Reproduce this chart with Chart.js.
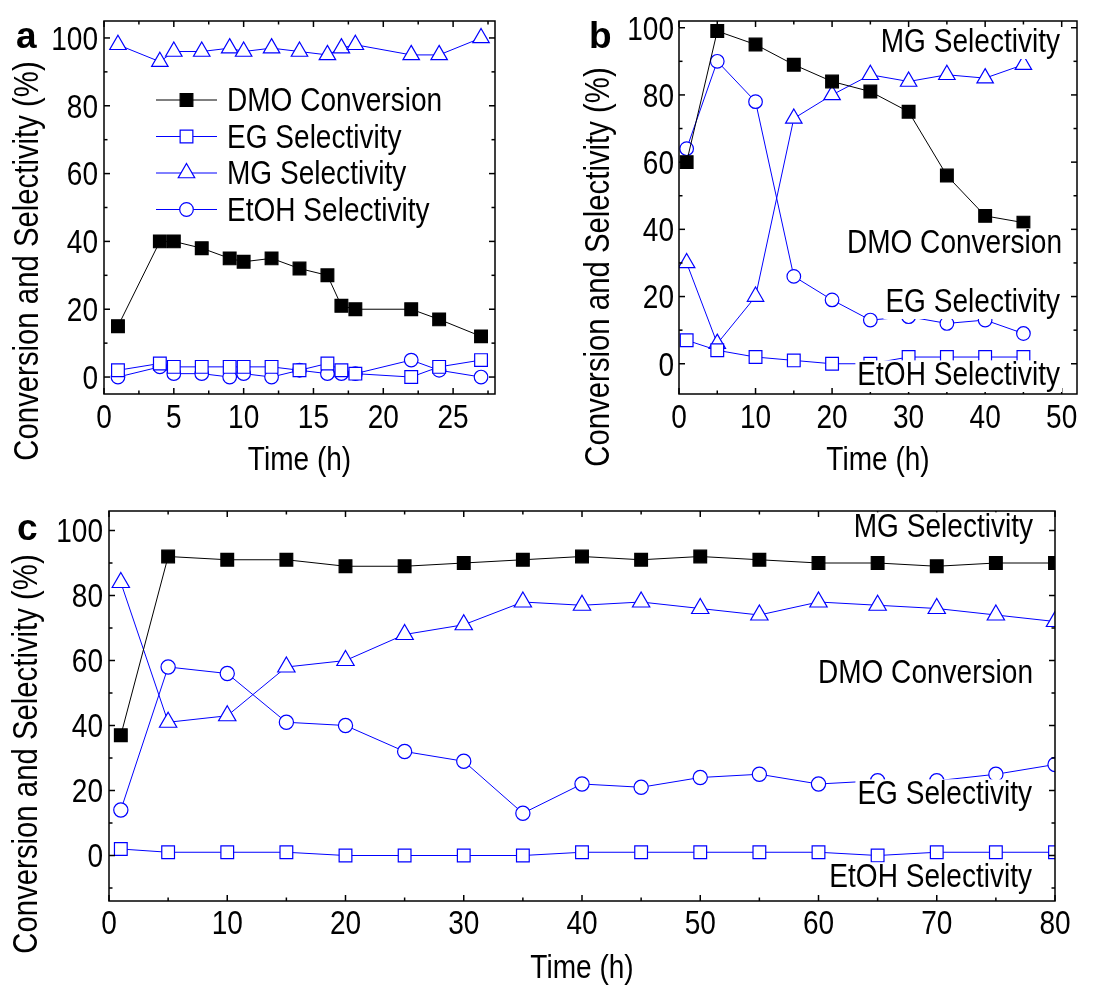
<!DOCTYPE html>
<html>
<head>
<meta charset="utf-8">
<script src="https://cdn.jsdelivr.net/npm/chart.js@4/dist/chart.umd.min.js"></script>
<style>
  html, body { margin: 0; padding: 0; background: #fff; }
  body { width: 1110px; height: 989px; position: relative; overflow: hidden; }
  canvas { position: absolute; }
</style>
</head>
<body>
<canvas id="panelA" style="left:0;top:0;width:550px;height:490px" width="550" height="490"></canvas>
<canvas id="panelB" style="left:560px;top:0;width:550px;height:490px" width="550" height="490"></canvas>
<canvas id="panelC" style="left:0;top:490px;width:1110px;height:499px" width="1110" height="499"></canvas>
<script>
// ---- Panel a ----
const timeA = [1, 4, 5, 7, 9, 10, 12, 14, 16, 17, 18, 22, 24, 27];
const dmoA  = [15, 40, 40, 38, 35, 34, 35, 32, 30, 21, 20, 20, 17, 12];
const egA   = [2, 4, 3, 3, 3, 3, 3, 2, 4, 2, 1, 0, 3, 5];
const mgA   = [98, 93, 96, 96, 97, 96, 97, 96, 95, 97, 98, 95, 95, 100];
const etohA = [0, 3, 1, 1, 0, 1, 0, 2, 1, 1, 1, 5, 2, 0];

// ---- Panel b ----
const timeB  = [1, 5, 10, 15, 20, 25, 30, 35, 40, 45];
const dmoB   = [60, 99, 95, 89, 84, 81, 75, 56, 44, 42];
const squareB = [7, 4, 2, 1, 0, 0, 2, 2, 2, 2];
const triB   = [30, 6, 20, 73, 80, 86, 84, 86, 85, 89];
const circleB = [64, 90, 78, 26, 19, 13, 14, 12, 13, 9];

// ---- Panel c ----
const timeC  = [1, 5, 10, 15, 20, 25, 30, 35, 40, 45, 50, 55, 60, 65, 70, 75, 80];
const dmoC   = [37, 92, 91, 91, 89, 89, 90, 91, 92, 91, 92, 91, 90, 90, 89, 90, 90];
const squareC = [2, 1, 1, 1, 0, 0, 0, 0, 1, 1, 1, 1, 1, 0, 1, 1, 1];
const triC   = [84, 41, 43, 58, 60, 68, 71, 78, 77, 78, 76, 74, 78, 77, 76, 74, 72];
const circleC = [14, 58, 56, 41, 40, 32, 29, 13, 22, 21, 24, 25, 22, 23, 23, 25, 28];

// tick labels
const yTickVals  = [0, 20, 40, 60, 80, 100];
const xTickValsA = [0, 5, 10, 15, 20, 25];
const xTickValsB = [0, 10, 20, 30, 40, 50];
const xTickValsC = [0, 10, 20, 30, 40, 50, 60, 70, 80];

const seriesNames = ['DMO Conversion', 'EG Selectivity', 'MG Selectivity', 'EtOH Selectivity'];
const yTitle = 'Conversion and Selectivity (%)';
const xTitle = 'Time (h)';

const FONT = "'Liberation Sans', Arial, Helvetica, sans-serif";
const SIZE = 33;          // tick labels, legend, notes, x title
const TITLE_SIZE = 34.5;  // y title
const SQUEEZE = 0.85;     // horizontal condensing of all plain text
const CAP = SIZE * 0.716;
const BLUE = '#0000ff';

const pts = (xs, ys) => xs.map((x, i) => ({ x, y: ys[i] }));

// marker styles for the four kinds of series
const STYLE = {
  dmo:    { pointStyle: 'rect',     pointRadius: 9,   borderColor: '#000', pointBackgroundColor: '#000', pointBorderColor: '#000' },
  square: { pointStyle: 'rect',     pointRadius: 9,   borderColor: BLUE,  pointBackgroundColor: '#fff', pointBorderColor: BLUE },
  tri:    { pointStyle: 'triangle', pointRadius: 9.5, borderColor: BLUE,  pointBackgroundColor: '#fff', pointBorderColor: BLUE },
  circle: { pointStyle: 'circle',   pointRadius: 6.8, borderColor: BLUE,  pointBackgroundColor: '#fff', pointBorderColor: BLUE }
};

function dataset(label, xs, ys, kind, bigger) {
  const s = STYLE[kind];
  const r = s.pointRadius + (bigger || 0);
  return {
    label,
    data: pts(xs, ys),
    borderColor: s.borderColor,
    borderWidth: 1,
    pointStyle: s.pointStyle,
    pointRadius: r,
    pointHoverRadius: r,
    pointBackgroundColor: s.pointBackgroundColor,
    pointBorderColor: s.pointBorderColor,
    pointBorderWidth: 1.2,
    tension: 0,
    fill: false
  };
}

// condensed text helper; returns the drawn width
function text(ctx, str, x, y, align, size, baseline, rotate) {
  ctx.save();
  ctx.font = `${size || SIZE}px ${FONT}`;
  ctx.textAlign = align;
  ctx.textBaseline = baseline || 'alphabetic';
  ctx.fillStyle = '#000';
  ctx.translate(x, y);
  if (rotate) ctx.rotate(rotate);
  ctx.scale(SQUEEZE, 1);
  ctx.fillText(str, 0, 0);
  const w = ctx.measureText(str).width * SQUEEZE;
  ctx.restore();
  return w;
}
function textWidth(ctx, str) {
  ctx.save();
  ctx.font = `${SIZE}px ${FONT}`;
  const w = ctx.measureText(str).width * SQUEEZE;
  ctx.restore();
  return w;
}

// frame, inward ticks on all four sides, tick labels, titles, panel letter, labels
function decorPlugin(cfg) {
  return {
    id: 'decor',
    afterDraw(chart) {
      const { ctx, chartArea: a, scales: { x, y } } = chart;
      ctx.save();
      ctx.strokeStyle = '#000';
      ctx.lineWidth = 1.5;
      const line = (x1, y1, x2, y2) => { ctx.beginPath(); ctx.moveTo(x1, y1); ctx.lineTo(x2, y2); ctx.stroke(); };

      // x ticks (major from the scale, minor in between)
      const xs = cfg.xMinor;
      for (let v = Math.ceil(x.min / xs) * xs; v <= x.max + 1e-9; v += xs) {
        const major = x.ticks.some(t => Math.abs(t.value - v) < 1e-9);
        const len = major ? 6 : 3.5;
        const px = x.getPixelForValue(v);
        line(px, a.bottom, px, a.bottom - len);
        line(px, a.top, px, a.top + len);
      }
      const ys = cfg.yMinor;
      for (let v = Math.ceil(y.min / ys) * ys; v <= y.max + 1e-9; v += ys) {
        const major = y.ticks.some(t => Math.abs(t.value - v) < 1e-9);
        const len = major ? 6 : 3.5;
        const py = y.getPixelForValue(v);
        line(a.left, py, a.left + len, py);
        line(a.right, py, a.right - len, py);
      }
      ctx.strokeRect(a.left, a.top, a.right - a.left, a.bottom - a.top);

      // tick labels
      x.ticks.forEach(t => text(ctx, String(t.value), x.getPixelForValue(t.value), cfg.xLabelBase, 'center'));
      y.ticks.forEach(t => text(ctx, String(t.value), a.left - cfg.yGap, y.getPixelForValue(t.value) + CAP / 2, 'right'));

      // axis titles
      text(ctx, xTitle, (a.left + a.right) / 2, cfg.xTitleBase, 'center');
      text(ctx, yTitle, cfg.yTitlePos[0], cfg.yTitlePos[1], 'center', TITLE_SIZE, 'middle', -Math.PI / 2);

      // panel letter
      ctx.fillStyle = '#000';
      ctx.font = `bold 37px ${FONT}`;
      ctx.textAlign = 'left';
      ctx.textBaseline = 'alphabetic';
      ctx.fillText(cfg.letter, cfg.letterPos[0], cfg.letterPos[1]);

      // series labels placed inside the plot, on a white box
      (cfg.notes || []).forEach(([str, right, base]) => {
        const w = textWidth(ctx, str);
        ctx.fillStyle = '#fff';
        ctx.fillRect(right - w - 2, base - CAP - 1, w + 4, CAP + 8);
        text(ctx, str, right, base, 'right');
      });

      // legend with line + marker samples
      if (cfg.legend) {
        const L = cfg.legend;
        chart.data.datasets.forEach((ds, i) => {
          const cy = L.y0 + i * L.dy;
          ctx.strokeStyle = ds.borderColor;
          ctx.lineWidth = 1;
          line(L.x0, cy, L.x1, cy);
          ctx.lineWidth = ds.pointBorderWidth;
          ctx.fillStyle = ds.pointBackgroundColor;
          ctx.strokeStyle = ds.pointBorderColor;
          Chart.helpers.drawPoint(ctx, { pointStyle: ds.pointStyle, radius: ds.pointRadius, rotation: 0, borderWidth: ds.pointBorderWidth }, (L.x0 + L.x1) / 2, cy);
          text(ctx, ds.label, L.tx, cy + 11, 'left');
        });
      }
      ctx.restore();
    }
  };
}

function makeChart(id, datasets, ax, decor) {
  return new Chart(document.getElementById(id), {
    type: 'line',
    data: { datasets },
    options: {
      responsive: false,
      animation: false,
      events: [],
      layout: { padding: ax.padding },
      plugins: { legend: { display: false }, tooltip: { enabled: false } },
      scales: {
        x: {
          type: 'linear',
          min: ax.xMin, max: ax.xMax,
          grid: { display: false },
          border: { display: false },
          ticks: { display: false },
          afterBuildTicks(s) { s.ticks = ax.xTicks.map(v => ({ value: v })); },
          afterFit(s) { s.height = ax.xHeight; }
        },
        y: {
          type: 'linear',
          min: ax.yMin, max: ax.yMax,
          grid: { display: false },
          border: { display: false },
          ticks: { display: false },
          afterBuildTicks(s) { s.ticks = yTickVals.map(v => ({ value: v })); },
          afterFit(s) { s.width = ax.yWidth; }
        }
      }
    },
    plugins: [decorPlugin(decor)]
  });
}

// Panel a
makeChart('panelA', [
  dataset(seriesNames[0], timeA, dmoA, 'dmo'),
  dataset(seriesNames[1], timeA, egA, 'square'),
  dataset(seriesNames[2], timeA, mgA, 'tri'),
  dataset(seriesNames[3], timeA, etohA, 'circle')
], {
  padding: { left: 0, top: 21, right: 55, bottom: 0 },
  xMin: 0, xMax: 28, xTicks: xTickValsA, yMin: -5, yMax: 105,
  xHeight: 96, yWidth: 104
}, {
  xMinor: 2.5, yMinor: 10, xLabelBase: 428, xTitleBase: 470, yGap: 6,
  yTitlePos: [28, 261], letter: 'a', letterPos: [16, 48],
  legend: { x0: 156, x1: 217, y0: 100, dy: 36.5, tx: 227 }
});

// Panel b
makeChart('panelB', [
  dataset(seriesNames[0], timeB, dmoB, 'dmo'),
  dataset(seriesNames[1], timeB, squareB, 'square'),
  dataset(seriesNames[2], timeB, triB, 'tri'),
  dataset(seriesNames[3], timeB, circleB, 'circle')
], {
  padding: { left: 0, top: 21, right: 33, bottom: 0 },
  xMin: 0, xMax: 52, xTicks: xTickValsB, yMin: -9, yMax: 102,
  xHeight: 96, yWidth: 119
}, {
  xMinor: 5, yMinor: 10, xLabelBase: 428, xTitleBase: 470, yGap: 5,
  yTitlePos: [39, 267], letter: 'b', letterPos: [29, 48],
  notes: [
    ['MG Selectivity', 500, 52],
    ['DMO Conversion', 502, 253],
    ['EG Selectivity', 500, 312],
    ['EtOH Selectivity', 500, 385]
  ]
});

// Panel c
makeChart('panelC', [
  dataset(seriesNames[0], timeC, dmoC, 'dmo'),
  dataset(seriesNames[1], timeC, squareC, 'square'),
  dataset(seriesNames[2], timeC, triC, 'tri', 0.5),
  dataset(seriesNames[3], timeC, circleC, 'circle', 0.3)
], {
  padding: { left: 0, top: 21, right: 55, bottom: 0 },
  xMin: 0, xMax: 80, xTicks: xTickValsC, yMin: -14, yMax: 106,
  xHeight: 88, yWidth: 109
}, {
  xMinor: 5, yMinor: 10, xLabelBase: 444, xTitleBase: 488, yGap: 6,
  yTitlePos: [27, 264], letter: 'c', letterPos: [17, 50],
  notes: [
    ['MG Selectivity', 1033, 47],
    ['DMO Conversion', 1033, 193],
    ['EG Selectivity', 1032, 314],
    ['EtOH Selectivity', 1032, 397]
  ]
});
</script>
</body>
</html>
